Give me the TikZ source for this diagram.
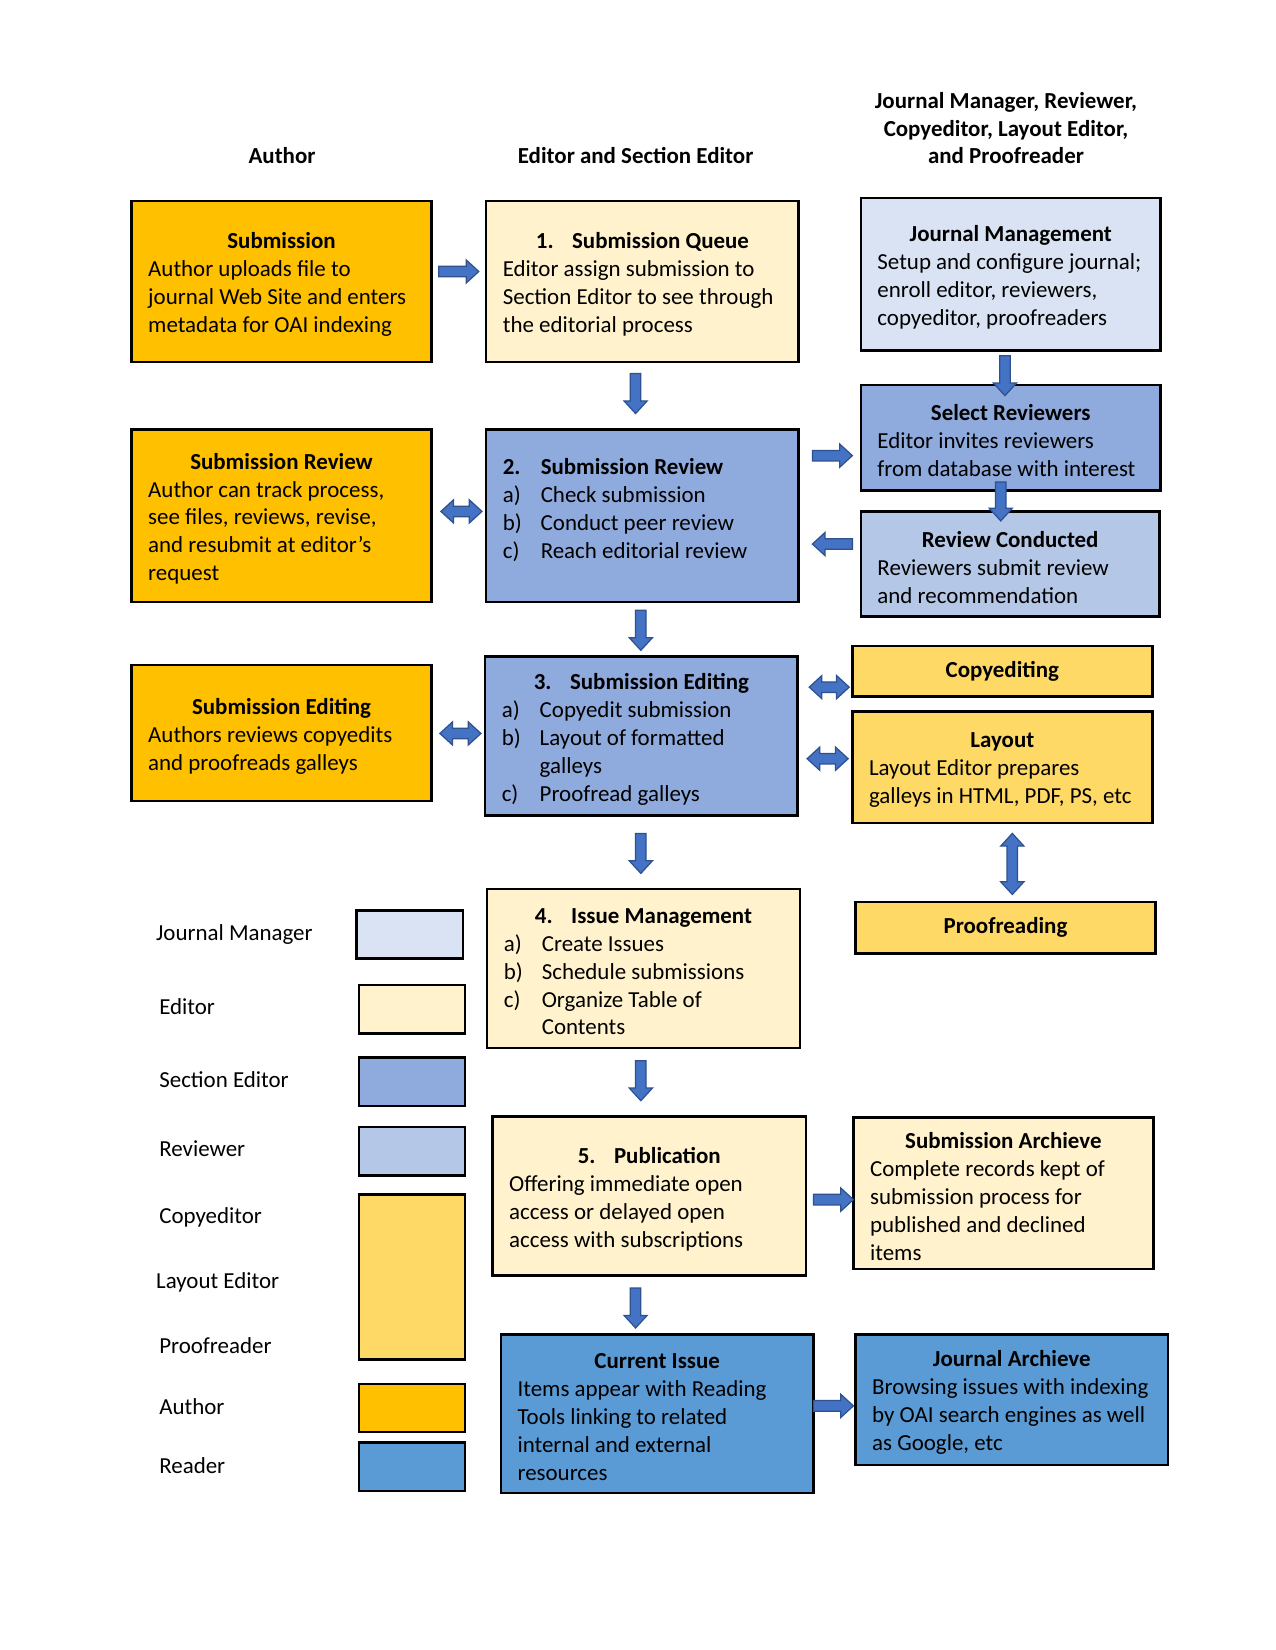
\documentclass[tikz,border=0pt]{standalone}
\usepackage{fontspec}
\setmainfont{Carlito}
\usetikzlibrary{calc}
\definecolor{cgold}{HTML}{FFC000}
\definecolor{ceditor}{HTML}{FFF2CC}
\definecolor{cjm}{HTML}{DAE3F3}
\definecolor{csec}{HTML}{8FAADC}
\definecolor{crev}{HTML}{B4C7E7}
\definecolor{ccopy}{HTML}{FFD966}
\definecolor{creader}{HTML}{5B9BD5}
\definecolor{arrfill}{HTML}{4472C4}
\definecolor{arredge}{HTML}{2F528F}
\newcommand{\bxt}[2]{\parbox{#1}{\hrule height0pt width0pt\vskip3pt\raggedright\leftskip=4pt\relax #2}}
\newcommand{\TT}[1]{{\centering\bfseries #1\par}}
\newcommand{\itm}[1]{\makebox[18.2pt][l]{#1}}
\newcommand{\ttm}[1]{\makebox[17.4pt][l]{#1}}
% block arrows (x1, x2, y) / (x, y1, y2)
\newcommand{\arR}[3]{\draw[blk] (#1,{#3-5}) -- ({#2-12},{#3-5}) -- ({#2-12},{#3-11}) -- (#2,#3) -- ({#2-12},{#3+11}) -- ({#2-12},{#3+5}) -- (#1,{#3+5}) -- cycle;}
\newcommand{\arL}[3]{\draw[blk] (#1,{#3-5}) -- ({#2+12},{#3-5}) -- ({#2+12},{#3-11}) -- (#2,#3) -- ({#2+12},{#3+11}) -- ({#2+12},{#3+5}) -- (#1,{#3+5}) -- cycle;}
\newcommand{\arD}[3]{\draw[blk] ({#1-5},#2) -- ({#1-5},{#3-12}) -- ({#1-11},{#3-12}) -- (#1,#3) -- ({#1+11},{#3-12}) -- ({#1+5},{#3-12}) -- ({#1+5},#2) -- cycle;}
\newcommand{\arH}[3]{\draw[blk] (#1,#3) -- ({#1+12},{#3-11}) -- ({#1+12},{#3-5}) -- ({#2-12},{#3-5}) -- ({#2-12},{#3-11}) -- (#2,#3) -- ({#2-12},{#3+11}) -- ({#2-12},{#3+5}) -- ({#1+12},{#3+5}) -- ({#1+12},{#3+11}) -- cycle;}
\newcommand{\arV}[3]{\draw[blk] (#1,#2) -- ({#1-11},{#2+12}) -- ({#1-5},{#2+12}) -- ({#1-5},{#3-12}) -- ({#1-11},{#3-12}) -- (#1,#3) -- ({#1+11},{#3-12}) -- ({#1+5},{#3-12}) -- ({#1+5},{#2+12}) -- ({#1+11},{#2+12}) -- cycle;}
\begin{document}
\begin{tikzpicture}[x=0.50495pt,y=-0.50495pt,
  bx/.style={draw=black, line width=1.2pt, inner sep=0pt, font=\fontsize{11}{13.4}\selectfont},
  wA/.style={minimum width=143.91pt},
  wB/.style={minimum width=149.97pt},
  blk/.style={fill=arrfill, draw=arredge, line width=0.6pt, line join=miter},
  hdr/.style={font=\fontsize{11}{13.2}\selectfont\bfseries, align=center, inner sep=0pt},
  lbl/.style={font=\fontsize{11}{13.4}\selectfont, anchor=base west, inner sep=0pt},
  lg/.style={draw=black, line width=1.2pt, minimum width=51pt, minimum height=23.2pt, inner sep=0pt}]
\useasboundingbox (0,0) rectangle (1212,1568);
\fill[white] (0,0) rectangle (1212,1568);

% headers
\node[hdr] (hA) at (268,148) {Author};
\node[hdr] (hE) at (604,148) {Editor and Section Editor};
\node[hdr] (hJ) at (956,122) {Journal Manager, Reviewer,\\Copyeditor, Layout Editor,\\and Proofreader};

% author column
\node[bx,wA,fill=cgold,minimum height=77.26pt] (sub) at (267.5,267.5)
 {\bxt{135.91pt}{\TT{Submission}Author uploads file to\\journal Web Site and enters\\metadata for OAI indexing}};
\node[bx,wA,fill=cgold,minimum height=82.81pt] (asr) at (267.5,490)
 {\bxt{135.91pt}{\TT{Submission Review}Author can track process,\\see files, reviews, revise,\\and resubmit at editor’s\\request}};
\node[bx,wA,fill=cgold,minimum height=65.14pt] (ase) at (267.5,696.5)
 {\bxt{135.91pt}{\TT{Submission Editing}Authors reviews copyedits\\and proofreads galleys}};

% editor column
\node[bx,wB,fill=ceditor,minimum height=77.26pt] (que) at (610.5,267.5)
 {\bxt{141.97pt}{\TT{\ttm{1.}Submission Queue}Editor assign submission to\\Section Editor to see through\\the editorial process}};
\node[bx,wB,fill=csec,minimum height=82.81pt] (srv) at (610.5,490)
 {\bxt{141.97pt}{\textbf{\itm{2.}Submission Review}\\\itm{a)}Check submission\\\itm{b)}Conduct peer review\\\itm{c)}Reach editorial review\par\vskip8pt\hrule height0pt width0pt}};
\node[bx,wB,fill=csec,minimum height=76.25pt] (sed) at (609.5,699.5)
 {\bxt{141.97pt}{\TT{\ttm{3.}Submission Editing}\itm{a)}Copyedit submission\\\itm{b)}Layout of formatted\\\hspace*{18.2pt}galleys\\\itm{c)}Proofread galleys}};
\node[bx,wB,fill=ceditor,minimum height=76.25pt] (ism) at (611.5,920.5)
 {\bxt{141.97pt}{\TT{\ttm{4.}Issue Management}\itm{a)}Create Issues\\\itm{b)}Schedule submissions\\\itm{c)}Organize Table of\\\hspace*{18.2pt}Contents}};
\node[bx,minimum width=150.48pt,fill=ceditor,minimum height=76.25pt] (pub) at (617,1136.5)
 {\bxt{142.48pt}{\TT{\ttm{5.}Publication}Offering immediate open\\access or delayed open\\access with subscriptions}};
\node[bx,wB,fill=creader,minimum height=76.25pt] (cis) at (624.5,1343.5)
 {\bxt{141.97pt}{\TT{Current Issue}Items appear with Reading\\Tools linking to related\\internal and external\\resources}};

% right column
\node[bx,wA,fill=cjm,minimum height=73.22pt] (jm) at (960.5,260.5)
 {\bxt{135.91pt}{\TT{Journal Management}Setup and configure journal;\\enroll editor, reviewers,\\copyeditor, proofreaders}};
\node[bx,wA,fill=csec,minimum height=50.5pt] (sel) at (960.5,416)
 {\bxt{135.91pt}{\TT{Select Reviewers}Editor invites reviewers\\from database with interest}};
\node[bx,minimum width=143.41pt,fill=crev,minimum height=50.5pt] (rc) at (960,536)
 {\bxt{135.41pt}{\TT{Review Conducted}Reviewers submit review\\and recommendation}};
\node[bx,wA,fill=ccopy,minimum height=24.24pt] (ced) at (952.5,638)
 {\textbf{Copyediting}};
\node[bx,wA,fill=ccopy,minimum height=53.52pt] (lay) at (952.5,729)
 {\bxt{135.91pt}{\TT{Layout}Layout Editor prepares\\galleys in HTML, PDF, PS, etc}};
\node[bx,wA,fill=ccopy,minimum height=24.74pt] (prf) at (955.5,881.5)
 {\textbf{Proofreading}};
\node[bx,wA,fill=ceditor,minimum height=72.71pt] (sar) at (953.5,1134)
 {\bxt{135.91pt}{\TT{Submission Archieve}Complete records kept of\\submission process for\\published and declined\\items}};
\node[bx,wB,fill=creader,minimum height=62.61pt] (jar) at (961.5,1330)
 {\bxt{141.97pt}{\TT{Journal Archieve}Browsing issues with indexing\\by OAI search engines as well\\as Google, etc}};

% block arrows
\arR{417}{455}{258}
\arD{604}{355}{393}
\arD{955}{338}{376}
\arR{772}{810}{433}
\arD{951}{458}{495}
\arL{810}{772}{517}
\arH{419}{458}{486}
\arD{609}{580}{618}
\arH{418}{457}{697}
\arH{769}{807}{653}
\arH{767}{806}{721}
\arV{962}{792}{850}
\arD{609}{792}{830}
\arD{609}{1008}{1046}
\arR{773}{811}{1140}
\arD{604}{1224}{1262}
\arR{773}{811}{1336}

% legend
\node[lbl] (l1) at (148,894) {Journal Manager};
\node[lbl] (l2) at (151,964) {Editor};
\node[lbl] (l3) at (151,1033) {Section Editor};
\node[lbl] (l4) at (151,1099) {Reviewer};
\node[lbl] (l5) at (151,1163) {Copyeditor};
\node[lbl] (l6) at (148,1224) {Layout Editor};
\node[lbl] (l7) at (151,1286) {Proofreader};
\node[lbl] (l8) at (151,1344) {Author};
\node[lbl] (l9) at (151,1400) {Reader};
\node[lg,fill=cjm] (g1) at (389.5,888) {};
\node[lg,fill=ceditor] (g2) at (391.5,959) {};
\node[lg,fill=csec] (g3) at (391.5,1028) {};
\node[lg,fill=crev] (g4) at (391.5,1094) {};
\node[lg,fill=ccopy,minimum height=79.28pt] (g5) at (391.5,1213.5) {};
\node[lg,fill=cgold] (g6) at (391.5,1338) {};
\node[lg,fill=creader] (g7) at (391.5,1394) {};
\end{tikzpicture}
\end{document}
